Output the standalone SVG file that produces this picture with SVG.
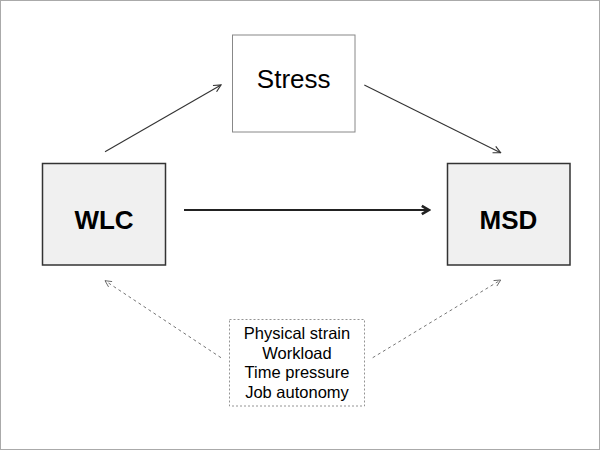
<svg xmlns="http://www.w3.org/2000/svg" width="600" height="450" viewBox="0 0 600 450">
<defs>
<style>
.lbl{font-family:"Liberation Sans",Arial,sans-serif;fill:#000;text-anchor:middle}
.thin{stroke:#333;stroke-width:1.1;fill:none}
.dash{stroke:#666;stroke-width:0.9;stroke-dasharray:3,3;fill:none}
</style>
<marker id="ah" viewBox="0 0 10 10" refX="9" refY="5" markerWidth="9" markerHeight="9" markerUnits="userSpaceOnUse" orient="auto">
<path d="M1,1 L9,5 L1,9" fill="none" stroke="#333" stroke-width="1.3"/>
</marker>
<marker id="ahd" viewBox="0 0 10 10" refX="9" refY="5" markerWidth="8" markerHeight="8" markerUnits="userSpaceOnUse" orient="auto">
<path d="M1,1 L9,5 L1,9" fill="none" stroke="#666" stroke-width="1.1"/>
</marker>
<marker id="ahm" viewBox="0 0 10 10" refX="8" refY="5" markerWidth="12" markerHeight="12" markerUnits="userSpaceOnUse" orient="auto">
<path d="M2,1.5 L8,5 L2,8.5" fill="none" stroke="#222" stroke-width="2.2"/>
</marker>
</defs>
<rect x="0.5" y="0.5" width="599" height="449" fill="#fff" stroke="#aaa" stroke-width="1"/>
<g id="connectors">
<line x1="184" y1="210" x2="429" y2="210" stroke="#222" stroke-width="2.2" marker-end="url(#ahm)"/>
<line class="thin" x1="105" y1="151.7" x2="221" y2="85" marker-end="url(#ah)"/>
<line class="thin" x1="364.3" y1="85" x2="500.6" y2="152.7" marker-end="url(#ah)"/>
<line class="dash" x1="221" y1="357.7" x2="105" y2="280.7" marker-end="url(#ahd)"/>
<line class="dash" x1="372.7" y1="357.7" x2="500.7" y2="280" marker-end="url(#ahd)"/>
</g>
<g id="stress">
<rect x="232.5" y="35" width="122.5" height="97" fill="#fff" stroke="#888" stroke-width="1"/>
<text class="lbl" x="293.7" y="88" font-size="26">Stress</text>
</g>
<g id="wlc">
<rect x="42.5" y="163.5" width="123" height="101.5" fill="#f0f0f0" stroke="#333" stroke-width="1.5"/>
<text class="lbl" x="104" y="228.5" font-size="26" font-weight="bold">WLC</text>
</g>
<g id="msd">
<rect x="447.5" y="163.5" width="122.5" height="101.5" fill="#f0f0f0" stroke="#333" stroke-width="1.5"/>
<text class="lbl" x="508.5" y="228.5" font-size="26" font-weight="bold">MSD</text>
</g>
<g id="factors">
<rect x="229.5" y="319.5" width="135" height="86.5" fill="#fff" stroke="#888" stroke-width="0.9" stroke-dasharray="2,2"/>
<text class="lbl" font-size="16.5"><tspan x="297" y="339">Physical strain</tspan><tspan x="297" y="358.5">Workload</tspan><tspan x="297" y="378">Time pressure</tspan><tspan x="297" y="397.5">Job autonomy</tspan></text>
</g>
</svg>
